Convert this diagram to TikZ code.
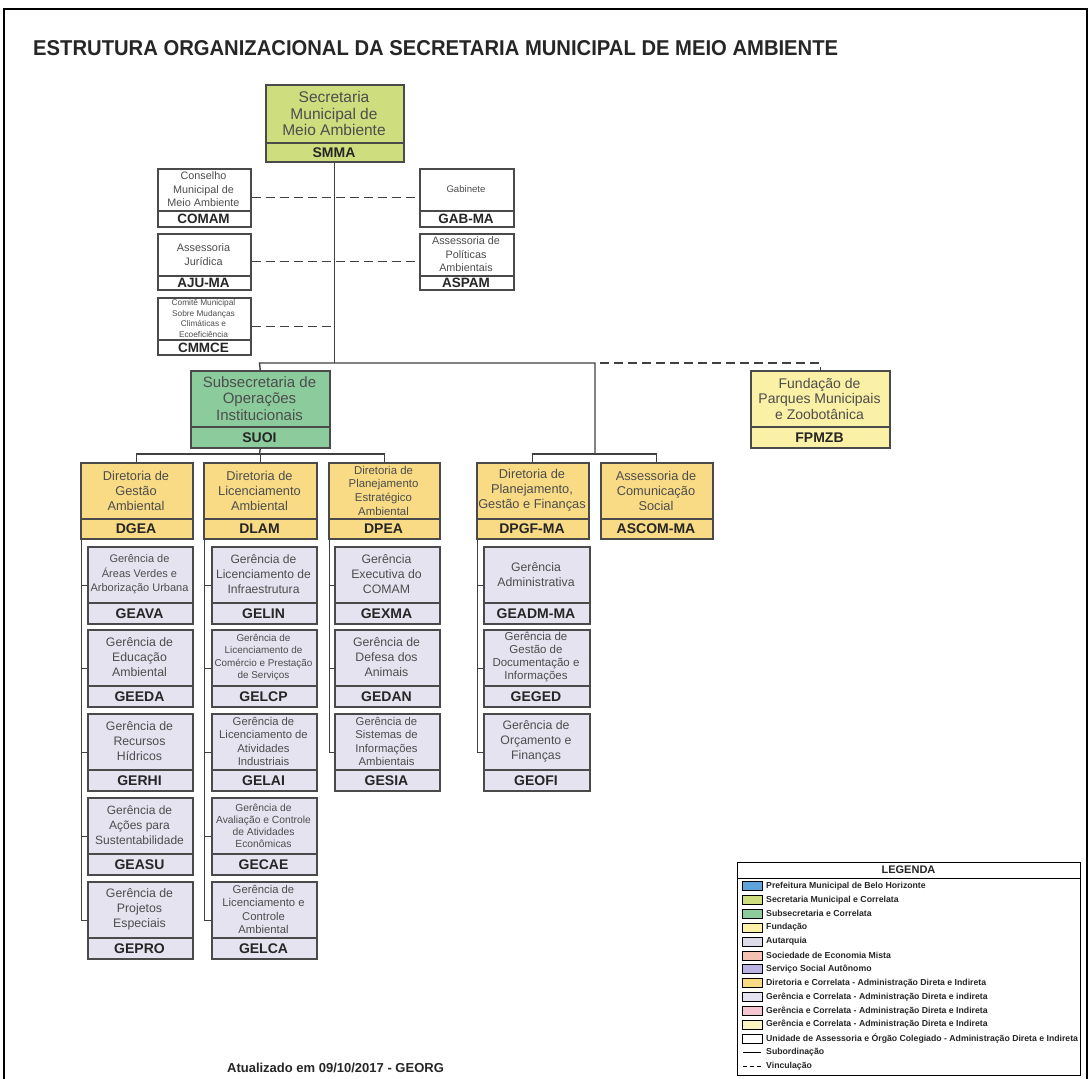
\documentclass[tikz,border=0pt]{standalone}
\usepackage{fontspec}
\setmainfont{Liberation Sans}
\usepackage{graphicx}
\definecolor{linec}{HTML}{404040}
\definecolor{boxc}{HTML}{4A4A4A}
\definecolor{txtc}{HTML}{4D4D4D}
\definecolor{codec}{HTML}{262626}
\definecolor{cSec}{RGB}{206,222,126}
\definecolor{cSub}{RGB}{140,204,156}
\definecolor{cFund}{RGB}{250,240,166}
\definecolor{cDir}{RGB}{248,219,132}
\definecolor{cGer}{RGB}{229,227,240}
\definecolor{cPref}{RGB}{92,164,218}
\definecolor{cAut}{RGB}{222,220,232}
\definecolor{cSoc}{RGB}{245,193,178}
\definecolor{cSSA}{RGB}{186,180,228}
\definecolor{cGerP}{RGB}{243,198,210}
\definecolor{cGerY}{RGB}{250,244,194}
\newcommand\fs[2]{\fontsize{#1}{#2}\selectfont}
\newcommand\oboxtxt[5]{\node[boxtext,font=\fs{#3}{#4}] (#1-t) at #2 {#5};}
\newcommand\obox[9]{%
  \node[orgbox,#7,anchor=north west,minimum width={(#4-#2)*1pt},minimum height={(#6-#3)*1pt}] (#1) at (#2,#3) {};
  \draw[divline] (#2,#5) -- (#4,#5);
  \oboxtxt{#1}{({(#2+#4)/2},{(#3+#5)/2})}#8
  \node[codetext] (#1-c) at ({(#2+#4)/2},{(#5+#6)/2+0.5}) {#9};
}
\tikzset{
  orgbox/.style={draw=boxc,line width=1.5pt,inner sep=0pt},
  divline/.style={draw=boxc,line width=1.2pt},
  boxtext/.style={align=center,inner sep=0pt,text=txtc},
  codetext/.style={inner sep=0pt,text=codec,font=\fs{14}{16}\bfseries},
  sec/.style={fill=cSec}, sub/.style={fill=cSub}, fund/.style={fill=cFund},
  dir/.style={fill=cDir}, ger/.style={fill=cGer}, wht/.style={fill=white},
  conn/.style={draw=linec,line width=1.4pt},
  vinc/.style={draw=linec,line width=1.4pt,dash pattern=on 9pt off 5pt},
  legtext/.style={anchor=west,inner sep=0pt,text=codec,font=\fs{8.7}{10}\bfseries},
  swatch/.style={draw=black,line width=0.5pt,minimum width=20pt,minimum height=9pt,inner sep=0pt}
}
\begin{document}
\begin{tikzpicture}[x=1pt,y=-1pt]
\useasboundingbox (0,0) rectangle (1090,1079);
\fill[white] (0,0) rectangle (1090,1079);
\draw[line width=1.3pt,black] (4,1085) -- (4,9) -- (1087,9) -- (1087,1085);

\node[anchor=west,inner sep=0pt,text=codec] (title) at (33,48)
  {\resizebox{805pt}{15pt}{\bfseries ESTRUTURA ORGANIZACIONAL DA SECRETARIA MUNICIPAL DE MEIO AMBIENTE}};

% top level
\obox{smma}{265}{84}{403}{143}{161}{sec}{{15.5}{16.7}{Secretaria\\Municipal de\\Meio Ambiente}}{SMMA}
\obox{comam}{157}{168}{250}{211}{226}{wht}{{10.8}{13.6}{Conselho\\Municipal de\\Meio Ambiente}}{\fs{13.5}{15}COMAM}
\obox{aju}{157}{233}{250}{276}{289}{wht}{{10.9}{13.8}{Assessoria\\Jurídica}}{\fs{13.5}{15}AJU-MA}
\obox{cmmce}{157}{297}{250}{340}{354}{wht}{{8.3}{10.6}{Comitê Municipal\\Sobre Mudanças\\Climáticas e\\Ecoeficiência}}{\fs{13.5}{15}CMMCE}
\obox{gab}{419}{168}{513}{211}{226}{wht}{{9.6}{12}{Gabinete}}{\fs{13.5}{15}GAB-MA}
\obox{aspam}{419}{233}{513}{276}{289}{wht}{{10.8}{13.6}{Assessoria de\\Políticas\\Ambientais}}{\fs{13.5}{15}ASPAM}

\obox{suoi}{190}{370}{329}{427}{447}{sub}{{15}{16.4}{Subsecretaria de\\Operações\\Institucionais}}{SUOI}
\obox{fpmzb}{750}{370}{889}{427}{447}{fund}{{14}{15.5}{Fundação de\\Parques Municipais\\e Zoobotânica}}{FPMZB}

% directors
\obox{dgea}{80}{462}{192}{519}{538}{dir}{{12.8}{15}{Diretoria de\\Gestão\\Ambiental}}{DGEA}
\obox{dlam}{203}{462}{316}{519}{538}{dir}{{12.8}{15}{Diretoria de\\Licenciamento\\Ambiental}}{DLAM}
\obox{dpea}{328}{462}{439}{519}{538}{dir}{{11.4}{13.7}{Diretoria de\\Planejamento\\Estratégico\\Ambiental}}{DPEA}
\obox{dpgf}{476}{462}{588}{519}{538}{dir}{{12.8}{15}{Diretoria de\\Planejamento,\\Gestão e Finanças}}{DPGF-MA}
\obox{ascom}{600}{462}{712}{519}{538}{dir}{{12.8}{15}{Assessoria de\\Comunicação\\Social}}{ASCOM-MA}

% DGEA column
\obox{geava}{87}{546}{192}{603}{623}{ger}{{11}{14.5}{Gerência de\\Áreas Verdes e\\Arborização Urbana}}{GEAVA}
\obox{geeda}{87}{629}{192}{686}{706}{ger}{{12.3}{15}{Gerência de\\Educação\\Ambiental}}{GEEDA}
\obox{gerhi}{87}{713}{192}{770}{790}{ger}{{12.3}{15}{Gerência de\\Recursos\\Hídricos}}{GERHI}
\obox{geasu}{87}{797}{192}{854}{874}{ger}{{12}{15}{Gerência de\\Ações para\\Sustentabilidade}}{GEASU}
\obox{gepro}{87}{881}{192}{938}{958}{ger}{{12.3}{15}{Gerência de\\Projetos\\Especiais}}{GEPRO}

% DLAM column
\obox{gelin}{211}{546}{316}{603}{623}{ger}{{12.1}{15}{Gerência de\\Licenciamento de\\Infraestrutura}}{GELIN}
\obox{gelcp}{211}{629}{316}{686}{706}{ger}{{9.9}{12.5}{Gerência de\\Licenciamento de\\Comércio e Prestação\\de Serviços}}{GELCP}
\obox{gelai}{211}{713}{316}{770}{790}{ger}{{11.3}{13.6}{Gerência de\\Licenciamento de\\Atividades\\Industriais}}{GELAI}
\obox{gecae}{211}{797}{316}{854}{874}{ger}{{10.3}{12}{Gerência de\\Avaliação e Controle\\de Atividades\\Econômicas}}{GECAE}
\obox{gelca}{211}{881}{316}{938}{958}{ger}{{11.3}{13.6}{Gerência de\\Licenciamento e\\Controle\\Ambiental}}{GELCA}

% DPEA column
\obox{gexma}{334}{546}{439}{603}{623}{ger}{{12.3}{15}{Gerência\\Executiva do\\COMAM}}{GEXMA}
\obox{gedan}{334}{629}{439}{686}{706}{ger}{{12.3}{15}{Gerência de\\Defesa dos\\Animais}}{GEDAN}
\obox{gesia}{334}{713}{439}{770}{790}{ger}{{11.3}{13.6}{Gerência de\\Sistemas de\\Informações\\Ambientais}}{GESIA}

% DPGF column
\obox{geadm}{483}{546}{589}{603}{623}{ger}{{12.3}{15}{Gerência\\Administrativa}}{GEADM-MA}
\obox{geged}{483}{629}{589}{686}{706}{ger}{{11.5}{13}{Gerência de\\Gestão de\\Documentação e\\Informações}}{GEGED}
\obox{geofi}{483}{713}{589}{770}{790}{ger}{{12.3}{15}{Gerência de\\Orçamento e\\Finanças}}{GEOFI}

% connectors
\coordinate (j1) at (259.5,363);
\coordinate (j2) at (595,363);
\coordinate (j3) at (595,454);
\coordinate (k) at (259.5,454);
\draw[conn] (smma.south) -- (smma.south |- j1);
\draw[conn] (suoi.north) -- (j1) -- (j2) -- (j3);
\draw[conn] (dpgf.north) |- (j3) -| (ascom.north);
\draw[conn] (suoi.south) -- (k);
\draw[conn] (dgea.north) |- (k) -| (dpea.north);
\draw[conn] (dlam.north) -- (dlam.north |- k);
\draw[vinc] ([xshift=5pt]j2) -| (fpmzb.north);
\draw[vinc] (comam.east) -- (gab.west);
\draw[vinc] (aju.east) -- (aspam.west);
\draw[vinc] (cmmce.east) -- (cmmce.east -| smma.south);

\draw[conn] ([xshift=1.5pt]dgea.south west) |- (gepro.west);
\foreach \b in {geava,geeda,gerhi,geasu} \draw[conn] (\b.west) -- (\b.west -| 81,0);
\draw[conn] ([xshift=1.5pt]dlam.south west) |- (gelca.west);
\foreach \b in {gelin,gelcp,gelai,gecae} \draw[conn] (\b.west) -- (\b.west -| 204.5,0);
\draw[conn] ([xshift=1.5pt]dpea.south west) |- (gesia.west);
\foreach \b in {gexma,gedan} \draw[conn] (\b.west) -- (\b.west -| 329.5,0);
\draw[conn] ([xshift=1.5pt]dpgf.south west) |- (geofi.west);
\foreach \b in {geadm,geged} \draw[conn] (\b.west) -- (\b.west -| 477.5,0);

% footer
\node[inner sep=0pt,text=codec,font=\fs{13}{15}\bfseries] (upd) at (335.5,1068) {Atualizado em 09/10/2017 - GEORG};

% legend
\node[draw=black,line width=0.8pt,anchor=north west,minimum width=343pt,minimum height=213pt,inner sep=0pt] (legend) at (737,862) {};
\draw[line width=0.6pt] (737,878) -- (1080,878);
\node[inner sep=0pt,text=codec,font=\fs{11}{12}\bfseries] (legh) at (908.5,870) {LEGENDA};
\foreach \i/\c/\t in {1/cPref/Prefeitura Municipal de Belo Horizonte,
  2/cSec/Secretaria Municipal e Correlata,
  3/cSub/Subsecretaria e Correlata,
  4/cFund/Fundação,
  5/cAut/Autarquia,
  6/cSoc/Sociedade de Economia Mista,
  7/cSSA/Serviço Social Autônomo,
  8/cDir/Diretoria e Correlata - Administração Direta e Indireta,
  9/cGer/Gerência e Correlata - Administração Direta e indireta,
  10/cGerP/Gerência e Correlata - Administração Direta e Indireta,
  11/cGerY/Gerência e Correlata - Administração Direta e Indireta,
  12/white/Unidade de Assessoria e Órgão Colegiado - Administração Direta e Indireta}{
  \node[swatch,fill=\c] (sw\i) at (752,{886+13.85*(\i-1)}) {};
  \node[legtext] (leg\i) at (766,{886+13.85*(\i-1)}) {\t};
}
\coordinate (s13a) at (743,{886+13.85*12});
\coordinate (s13b) at (761,{886+13.85*12});
\draw[line width=1pt] (s13a) -- (s13b);
\node[legtext] (leg13) at (766,{886+13.85*12}) {Subordinação};
\coordinate (s14a) at (743,{886+13.85*13});
\coordinate (s14b) at (761,{886+13.85*13});
\draw[line width=1pt,dash pattern=on 4pt off 3pt] (s14a) -- (s14b);
\node[legtext] (leg14) at (766,{886+13.85*13}) {Vinculação};
\end{tikzpicture}
\end{document}
